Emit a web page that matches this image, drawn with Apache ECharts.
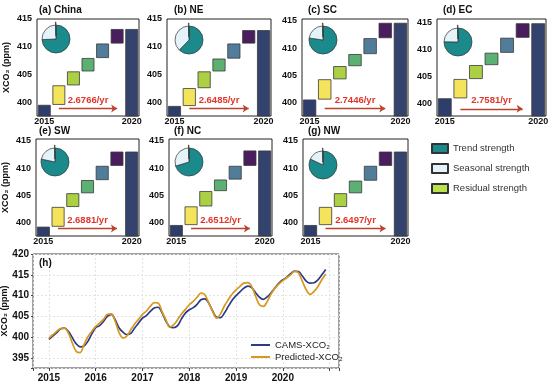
<!DOCTYPE html>
<html><head><meta charset="utf-8">
<script src="https://cdn.jsdelivr.net/npm/echarts@6/dist/echarts.min.js"></script>
<style>html,body{margin:0;padding:0;background:#fff}#c{width:550px;height:388px}</style>
</head><body><div id="c"></div>
<script>
// ---------------- data ----------------
const panelNames = ['(a) China','(b) NE','(c) SC','(d) EC','(e) SW','(f) NC','(g) NW'];
const barCats = ['2015','d2016','d2017','d2018','d2019','d2020','2020'];
const barTickLabels = ['2015','','','','','','2020'];
// annual XCO2 level (ppm), 2015..2020
const levelsChina = [399.6, 403.1, 405.6, 408.0, 410.6, 413.2];
const levelsNE    = [399.4, 402.6, 405.6, 407.9, 410.6, 413.0];
const levelsSC    = [400.6, 404.3, 406.7, 408.9, 411.8, 414.6];
const levelsEC    = [400.9, 404.5, 407.1, 409.4, 412.2, 414.9];
const levelsSW    = [399.3, 402.9, 405.4, 407.8, 410.4, 413.0];
const levelsNC    = [399.6, 403.0, 405.8, 407.9, 410.4, 413.2];
const levelsNW    = [399.6, 402.9, 405.4, 407.7, 410.4, 413.0];
const growthRates = ['2.6766','2.6485','2.7446','2.7581','2.6881','2.6512','2.6497'];
const arrowLevel = 398.95;
// pie: strength shares (%)
const trendStrength    = [74, 62, 77, 75, 78, 70, 82];
const seasonalStrength = [25, 37, 22, 24, 21, 29, 17.4];
const residualStrength = [0.6, 0.6, 0.6, 0.6, 0.6, 0.6, 0.6];
const strengthNames = ['Trend strength','Seasonal strength','Residual strength'];
// (h) monthly series Jan 2015 .. Dec 2020
const years = [2015, 2016, 2017, 2018, 2019, 2020];
const camsXCO2 = [
 399.5,400.3,401.1,402.0,402.2,401.4,399.9,398.4,397.7,397.9,399.0,400.8,
 402.3,402.8,403.8,405.0,405.5,404.2,402.2,401.2,400.6,400.9,402.2,403.4,
 404.6,405.2,406.2,407.0,407.2,405.9,403.9,402.5,402.3,402.8,404.4,405.8,
 406.6,407.1,407.9,409.0,409.2,408.2,406.3,404.8,404.7,405.8,407.4,408.9,
 410.0,410.9,411.8,412.3,411.9,410.7,409.6,409.1,409.7,410.7,411.9,413.0,
 413.8,414.4,415.3,415.9,415.8,414.7,413.5,413.0,413.1,413.8,415.0,416.3];
const predictedXCO2 = [
 399.8,400.6,401.4,402.1,402.2,401.0,398.6,396.6,396.3,398.2,400.1,401.4,
 402.6,403.4,404.3,405.5,405.6,403.8,401.1,399.8,400.3,401.8,403.2,404.3,
 405.5,406.3,407.4,408.3,408.2,406.2,404.2,402.4,403.0,404.2,405.6,406.7,
 407.8,408.6,409.6,410.6,410.2,408.2,406.2,404.6,405.6,407.5,409.0,410.4,
 411.4,412.2,413.0,413.1,412.2,409.9,407.8,407.4,408.6,410.4,411.8,412.8,
 413.6,414.3,415.0,415.8,415.5,413.4,411.4,410.3,411.0,412.2,413.8,415.2];

// ---------------- layout / style ----------------
const FONT = '"Liberation Sans", Arial, Helvetica, sans-serif';
const panelLevels = [levelsChina, levelsNE, levelsSC, levelsEC, levelsSW, levelsNC, levelsNW];
const gridBoxes = [
 {left:37, top:19, width:102, height:97},
 {left:167, top:19, width:104, height:97},
 {left:302, top:19, width:106, height:97},
 {left:437, top:19, width:109, height:97},
 {left:36, top:139, width:103, height:97},
 {left:169, top:139, width:103, height:97},
 {left:303, top:139, width:105, height:97},
 {left:33, top:254, width:306, height:114}
];
const panelYMax = [415.0, 415.0, 415.3, 415.7, 415.3, 415.3, 415.3];
const pieCenters = [[56,39],[189,40],[323,40],[458,42],[55,162],[189,162],[323,165]];
const titlePos = [[39,5],[174,5],[308,5],[443,5],[39,126],[174,126],[308,126],[39,258]];
const stepColors = ['#2e3e6c','#f4e45c','#abd043','#5cb072','#517d9b','#4a1d5e','#33436e'];
const pieColors = ['#1b8a8c','#e3f3f9','#b8e34a'];
const camsColor = '#2c3a8a', predColor = '#d6981d';

const grids=[], xAxes=[], yAxes=[], series=[], titles=[];
const labelStyle = {fontFamily:FONT, fontWeight:'bold', color:'#111'};

panelLevels.forEach((L,i)=>{
  const g = gridBoxes[i];
  grids.push({left:g.left, top:g.top, width:g.width, height:g.height, show:true, borderColor:'#222', borderWidth:1,
    containLabel:false, outerBoundsMode:'none'});
  xAxes.push({type:'category', gridIndex:i, data:barCats, axisLine:{show:false}, axisTick:{show:false},
    axisLabel:Object.assign({interval:0, margin:1, fontSize:9, formatter:(v,idx)=>barTickLabels[idx]}, labelStyle)});
  const showName = (i===0 || i===4);
  yAxes.push({type:'value', gridIndex:i, min:397.6, max:panelYMax[i], splitNumber:4,
    axisLine:{show:false}, axisTick:{show:false}, splitLine:{show:false},
    axisLabel:Object.assign({margin:5, fontSize:9, formatter:v=>(Math.abs(v%5)<1e-6 ? String(v) : '')}, labelStyle),
    name: showName ? 'XCO₂ (ppm)' : '', nameLocation:'middle', nameGap:26, nameMoveOverlap:false,
    nameTextStyle:Object.assign({fontSize:9}, labelStyle)});
  const base = [0, L[0], L[1], L[2], L[3], L[4], 0];
  const vis = [L[0], L[1]-L[0], L[2]-L[1], L[3]-L[2], L[4]-L[3], L[5]-L[4], L[5]];
  series.push({type:'bar', xAxisIndex:i, yAxisIndex:i, stack:'s'+i, data:base, silent:true,
    barCategoryGap:'12%', itemStyle:{color:'rgba(0,0,0,0)'}});
  series.push({type:'bar', xAxisIndex:i, yAxisIndex:i, stack:'s'+i, silent:true, barCategoryGap:'12%',
    data: vis.map((v,k)=>({value:+v.toFixed(3), itemStyle:{color:stepColors[k]}})),
    itemStyle:{borderColor:'#3a3a3a', borderWidth:0.8},
    markLine:{silent:true, symbol:['none','arrow'], symbolSize:6, animation:false,
      lineStyle:{color:'#b8432f', width:1.3, type:'solid'},
      label:{show:true, position:'middle', distance:3, formatter: growthRates[i]+'/yr', color:'#e0352b', fontSize:9.5, fontWeight:'bold', fontFamily:FONT},
      emphasis:{disabled:true},
      data:[[{coord:['d2016', arrowLevel]},{coord:['d2020', arrowLevel]}]]}});
  series.push({type:'pie', center:pieCenters[i], radius:14, startAngle:90, clockwise:true, silent:true,
    label:{show:false}, labelLine:{show:false}, selectedMode:'single', selectedOffset:3,
    itemStyle:{borderColor:'#333', borderWidth:0.7}, emphasis:{disabled:true},
    data:[
      {name:strengthNames[0], value:trendStrength[i], itemStyle:{color:pieColors[0]}},
      {name:strengthNames[1], value:seasonalStrength[i], itemStyle:{color:pieColors[1]}},
      {name:strengthNames[2], value:residualStrength[i], selected:true, itemStyle:{color:pieColors[2]}}
    ]});
  titles.push({text:panelNames[i], left:titlePos[i][0], top:titlePos[i][1], padding:0,
    textStyle:{fontSize:10, fontWeight:'bold', color:'#111', fontFamily:FONT}});
});

// ---- panel (h)
const hb = gridBoxes[7];
grids.push({left:hb.left, top:hb.top, width:hb.width, height:hb.height, show:true, borderColor:'#444', borderWidth:1,
  containLabel:false, outerBoundsMode:'none'});
xAxes.push({type:'value', gridIndex:7, min:2014.66, max:2021.2, splitNumber:6,
  axisLine:{show:false}, axisTick:{show:true, length:3, lineStyle:{color:'#444'}},
  splitLine:{show:true, lineStyle:{color:'#e2e2e2', type:[2,2]}},
  axisLabel:Object.assign({margin:5, fontSize:10, formatter:v=>(Number.isInteger(v) && v<=years[years.length-1]) ? String(v) : ''}, labelStyle)});
yAxes.push({type:'value', gridIndex:7, min:392.6, max:420, splitNumber:5,
  axisLine:{show:false}, axisTick:{show:true, length:2, lineStyle:{color:'#444'}},
  splitLine:{show:true, lineStyle:{color:'#e2e2e2', type:[2,2]}},
  axisLabel:Object.assign({margin:4, fontSize:10, formatter:v=>(Math.abs(v%5)<1e-6 ? String(v) : '')}, labelStyle),
  name:'XCO₂ (ppm)', nameLocation:'middle', nameGap:24, nameMoveOverlap:false,
  nameTextStyle:Object.assign({fontSize:9}, labelStyle)});
const monthX = [];
years.forEach(y=>{ for(let m=0;m<12;m++) monthX.push(y + m/12); });
series.push({type:'line', name:'CAMS-XCO₂', xAxisIndex:7, yAxisIndex:7, smooth:0.35, symbol:'none', showSymbol:false,
  data: monthX.map((x,k)=>[x, camsXCO2[k]]), lineStyle:{color:camsColor, width:1.7}, itemStyle:{color:camsColor}, silent:true});
series.push({type:'line', name:'Predicted-XCO₂', xAxisIndex:7, yAxisIndex:7, smooth:0.35, symbol:'none', showSymbol:false,
  data: monthX.map((x,k)=>[x, predictedXCO2[k]]), lineStyle:{color:predColor, width:1.7}, itemStyle:{color:predColor}, silent:true});
titles.push({text:'(h)', left:titlePos[7][0], top:titlePos[7][1], padding:0,
  textStyle:{fontSize:10, fontWeight:'bold', color:'#111', fontFamily:FONT}});

const chart = echarts.init(document.getElementById('c'));
chart.setOption({
  animation:false,
  backgroundColor:'#fff',
  title: titles,
  grid: grids, xAxis: xAxes, yAxis: yAxes,
  legend:[
    {data:strengthNames, orient:'vertical', left:431, top:143, padding:0, itemWidth:16, itemHeight:9, itemGap:9, icon:'rect', selectedMode:false,
     textStyle:{fontSize:9.5, color:'#333', fontFamily:FONT}},
    {data:['CAMS-XCO₂','Predicted-XCO₂'], orient:'vertical', left:251, top:340, padding:0, itemWidth:19, itemHeight:2, itemGap:2, icon:'rect', selectedMode:false,
     textStyle:{fontSize:9.5, color:'#222', fontFamily:FONT}}
  ],
  series: series
});
</script></body></html>
